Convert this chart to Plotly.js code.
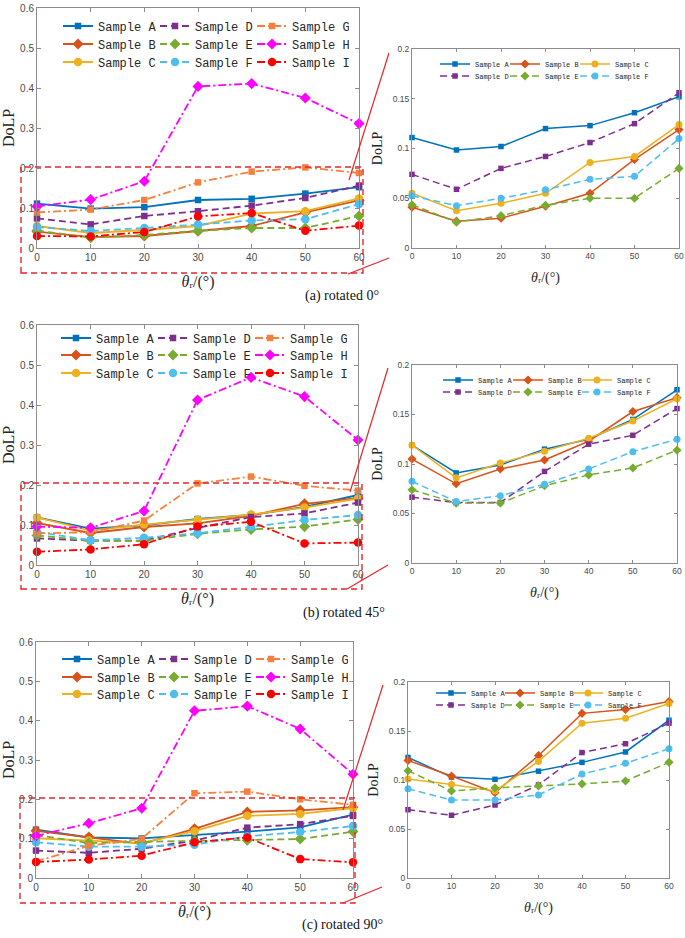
<!DOCTYPE html>
<html>
<head>
<meta charset="utf-8">
<script src="https://cdn.plot.ly/plotly-3.0.1.min.js"></script>
<style>html,body{margin:0;padding:0;background:#fff;}#chart{width:685px;height:938px;}</style>
</head>
<body>
<div id="chart"></div>
<script>
// ---------- DATA ----------
const thetaR = [0, 10, 20, 30, 40, 50, 60];
const sampleNames = ['Sample A','Sample B','Sample C','Sample D','Sample E','Sample F','Sample G','Sample H','Sample I'];
const captions = ['(a) rotated 0°', '(b) rotated 45°', '(c) rotated 90°'];

// rotated 0°
const rot0_A = [0.111, 0.0985, 0.102, 0.120, 0.123, 0.136, 0.152];
const rot0_B = [0.041, 0.027, 0.030, 0.042, 0.055, 0.089, 0.119];
const rot0_C = [0.055, 0.0375, 0.045, 0.055, 0.086, 0.092, 0.124];
const rot0_D = [0.074, 0.059, 0.080, 0.092, 0.106, 0.125, 0.156];
const rot0_E = [0.0435, 0.026, 0.0325, 0.043, 0.050, 0.050, 0.080];
const rot0_F = [0.0525, 0.0425, 0.050, 0.0585, 0.069, 0.072, 0.110];
const rot0_G = [0.089, 0.096, 0.120, 0.164, 0.191, 0.2015, 0.1875];
const rot0_H = [0.104, 0.121, 0.167, 0.404, 0.411, 0.375, 0.311];
const rot0_I = [0.030, 0.029, 0.040, 0.079, 0.0875, 0.043, 0.056];

// rotated 45°
const rot45_A = [0.119, 0.091, 0.099, 0.115, 0.125, 0.145, 0.175];
const rot45_B = [0.105, 0.080, 0.095, 0.104, 0.123, 0.153, 0.167];
const rot45_C = [0.119, 0.086, 0.101, 0.113, 0.126, 0.1435, 0.166];
const rot45_D = [0.0665, 0.061, 0.061, 0.0925, 0.120, 0.129, 0.156];
const rot45_E = [0.074, 0.0605, 0.0605, 0.078, 0.089, 0.096, 0.114];
const rot45_F = [0.0825, 0.062, 0.068, 0.0795, 0.095, 0.1125, 0.125];
const rot45_G = [0.079, 0.082, 0.111, 0.204, 0.221, 0.198, 0.186];
const rot45_H = [0.096, 0.093, 0.135, 0.4125, 0.469, 0.421, 0.3125];
const rot45_I = [0.033, 0.039, 0.052, 0.096, 0.108, 0.054, 0.056];

// rotated 90°
const rot90_A = [0.123, 0.103, 0.1007, 0.109, 0.118, 0.1286, 0.161];
const rot90_B = [0.120, 0.104, 0.087, 0.125, 0.168, 0.172, 0.180];
const rot90_C = [0.101, 0.0955, 0.0888, 0.119, 0.158, 0.163, 0.178];
const rot90_D = [0.0697, 0.064, 0.0745, 0.095, 0.128, 0.137, 0.158];
const rot90_E = [0.1095, 0.0888, 0.092, 0.094, 0.096, 0.099, 0.118];
const rot90_F = [0.091, 0.0796, 0.0796, 0.0847, 0.106, 0.117, 0.132];
const rot90_G = [0.042, 0.082, 0.0997, 0.2155, 0.2197, 0.200, 0.186];
const rot90_H = [0.107, 0.139, 0.1775, 0.425, 0.437, 0.379, 0.264];
const rot90_I = [0.0406, 0.047, 0.0566, 0.091, 0.103, 0.048, 0.040];

const leftTicksY = [0, 0.1, 0.2, 0.3, 0.4, 0.5, 0.6];
const rightTicksY = [0, 0.05, 0.1, 0.15, 0.2];
const ticksX = [0, 10, 20, 30, 40, 50, 60];

// ---------- STYLE ----------
const W = 685, H = 938;
const colors = ['#0072BD','#D95319','#EDB120','#7E2F8E','#77AC30','#4DBEEE','#F5803E','#FF00FF','#FF0000'];
const symbols = ['square','diamond','circle','square','diamond','circle','square','diamond','circle'];
const dashes = ['solid','solid','solid','7px,4px','7px,4px','7px,4px','8px,3px,2px,3px','8px,3px,2px,3px','8px,3px,2px,3px'];
const sizeL = {square: 6.5, diamond: 8.5, circle: 8.5};
const sizeR = {square: 5.5, diamond: 7, circle: 7};

const panels = [
  [rot0_A, rot0_B, rot0_C, rot0_D, rot0_E, rot0_F, rot0_G, rot0_H, rot0_I],
  [rot45_A, rot45_B, rot45_C, rot45_D, rot45_E, rot45_F, rot45_G, rot45_H, rot45_I],
  [rot90_A, rot90_B, rot90_C, rot90_D, rot90_E, rot90_F, rot90_G, rot90_H, rot90_I]
];

// pixel boxes [x0, x1, y0(top), y1(bottom)]
const boxL = [[37, 359, 8, 248], [37, 358, 325, 565], [36, 353, 642, 878]];
const boxR = [[412, 679, 49, 248], [412, 677, 365, 563], [408, 669, 682, 878]];
// legend rows (y centres, line start of first column) for left panels
const legL = [{y: [26, 44, 62], x: 63}, {y: [338, 355, 373], x: 61}, {y: [659, 677, 694], x: 62}];
// right panels: row y centres and column line starts
const legR = [{y: [64, 76], x: [440, 510, 580]}, {y: [380, 392], x: [443, 513, 582]}, {y: [693, 705], x: [436, 505, 573]}];

const px = v => v / W;
const py = v => 1 - v / H;

const traces = [];
const layout = {
  width: W, height: H,
  margin: {l: 0, r: 0, t: 0, b: 0},
  paper_bgcolor: '#fff', plot_bgcolor: '#fff',
  showlegend: true,
  shapes: [], annotations: []
};

const axisColor = '#8c8c8c';
const tickFontColor = '#4a4a4a';
const xTitle = '<i>θ</i>ᵣ/(°)';

let legendCount = 0;
function newLegend(xp, yp, fontSize, entry) {
  legendCount++;
  const name = legendCount === 1 ? 'legend' : 'legend' + legendCount;
  const lg = {
    orientation: 'h', x: px(xp - 5), y: py(yp), xanchor: 'left', yanchor: 'middle',
    bgcolor: 'rgba(0,0,0,0)', borderwidth: 0,
    font: {family: 'Liberation Mono, monospace', size: fontSize, color: '#262626'},
    tracegroupgap: 0
  };
  if (entry) { lg.entrywidth = entry; lg.entrywidthmode = 'pixels'; }
  layout[name] = lg;
  return name;
}

for (let p = 0; p < 3; p++) {
  const li = 2 * p + 1, ri = 2 * p + 2;
  const bl = boxL[p], br = boxR[p];
  const xa = n => (n === 1 ? 'xaxis' : 'xaxis' + n);
  const ya = n => (n === 1 ? 'yaxis' : 'yaxis' + n);
  const common = (fs, tl) => ({
    showline: true, linecolor: axisColor, linewidth: 1, mirror: 'ticks',
    ticks: 'inside', ticklen: tl, tickcolor: axisColor, tickwidth: 1,
    showgrid: false, zeroline: false, fixedrange: true,
    tickfont: {family: 'Liberation Sans, Arial, sans-serif', size: fs, color: tickFontColor}
  });
  // left axes
  layout[xa(li)] = Object.assign(common(10, 4), {
    domain: [px(bl[0]), px(bl[1])], anchor: 'y' + (li === 1 ? '' : li),
    range: [0, 60], tickvals: ticksX,
    title: {text: xTitle, font: {family: 'Liberation Serif, DejaVu Serif, serif', size: 16, color: '#262626'}, standoff: 13}
  });
  layout[ya(li)] = Object.assign(common(10, 4), {
    domain: [py(bl[3]), py(bl[2])], anchor: 'x' + (li === 1 ? '' : li),
    range: [0, 0.6], tickvals: leftTicksY,
    title: {text: 'DoLP', font: {family: 'Liberation Serif, serif', size: 16, color: '#262626'}, standoff: 6}
  });
  // right axes
  layout[xa(ri)] = Object.assign(common(8.5, 3), {
    domain: [px(br[0]), px(br[1])], anchor: 'y' + ri,
    range: [0, 60], tickvals: ticksX,
    title: {text: xTitle, font: {family: 'Liberation Serif, DejaVu Serif, serif', size: 14, color: '#262626'}, standoff: 11}
  });
  layout[ya(ri)] = Object.assign(common(8.5, 3), {
    domain: [py(br[3]), py(br[2])], anchor: 'x' + ri,
    range: [0, 0.2], tickvals: rightTicksY,
    title: {text: 'DoLP', font: {family: 'Liberation Serif, serif', size: 14, color: '#262626'}, standoff: 6}
  });

  // legends: left = one horizontal legend per row; right = one legend per entry
  const lrows = legL[p].y.map(y => newLegend(legL[p].x, y, 12, 52));
  const rents = [];
  for (let s = 0; s < 6; s++) {
    rents.push(newLegend(legR[p].x[s % 3], legR[p].y[Math.floor(s / 3)], 7, null));
  }

  const series = panels[p];
  // left: all nine samples
  for (let s = 0; s < 9; s++) {
    traces.push({
      type: 'scatter', mode: 'lines+markers', x: thetaR, y: series[s], name: sampleNames[s],
      xaxis: 'x' + (li === 1 ? '' : li), yaxis: 'y' + (li === 1 ? '' : li),
      legend: lrows[s % 3], cliponaxis: false,
      line: {color: colors[s], width: 1.8, dash: dashes[s]},
      marker: {symbol: symbols[s], size: sizeL[symbols[s]], color: colors[s]}
    });
  }
  // right: samples A-F
  for (let s = 0; s < 6; s++) {
    traces.push({
      type: 'scatter', mode: 'lines+markers', x: thetaR, y: series[s], name: sampleNames[s],
      xaxis: 'x' + ri, yaxis: 'y' + ri,
      legend: rents[s], cliponaxis: false,
      line: {color: colors[s], width: 1.5, dash: dashes[s]},
      marker: {symbol: symbols[s], size: sizeR[symbols[s]], color: colors[s]}
    });
  }
}

// ---------- DECORATIONS (zoom boxes, connector lines, captions) ----------
const zoomRects = [[21, 363, 167, 273], [21, 362, 483, 589], [20, 355, 798, 903]];
const connectors = [
  [[349, 180, 389, 53], [348, 274, 389, 258]],
  [[350, 492, 388, 368], [347, 589, 388, 565]],
  [[343, 810, 383, 685], [343, 903, 382, 887]]
];
const captionPos = [[342, 296], [344, 613], [342, 925]];
const redLine = '#E4262B';

for (let p = 0; p < 3; p++) {
  const r = zoomRects[p];
  layout.shapes.push({type: 'rect', xref: 'paper', yref: 'paper',
    x0: px(r[0]), x1: px(r[1]), y0: py(r[3]), y1: py(r[2]),
    line: {color: redLine, width: 1.4, dash: '6px,4px'}, fillcolor: 'rgba(0,0,0,0)', layer: 'above'});
  connectors[p].forEach(c => layout.shapes.push({type: 'line', xref: 'paper', yref: 'paper',
    x0: px(c[0]), y0: py(c[1]), x1: px(c[2]), y1: py(c[3]),
    line: {color: redLine, width: 1.2}, layer: 'above'}));
  layout.annotations.push({xref: 'paper', yref: 'paper', x: px(captionPos[p][0]), y: py(captionPos[p][1]),
    xanchor: 'center', yanchor: 'middle', showarrow: false, text: captions[p],
    font: {family: 'Liberation Serif, serif', size: 14, color: '#111'}});
}

Plotly.newPlot('chart', traces, layout, {displayModeBar: false, staticPlot: true});
</script>
</body>
</html>
